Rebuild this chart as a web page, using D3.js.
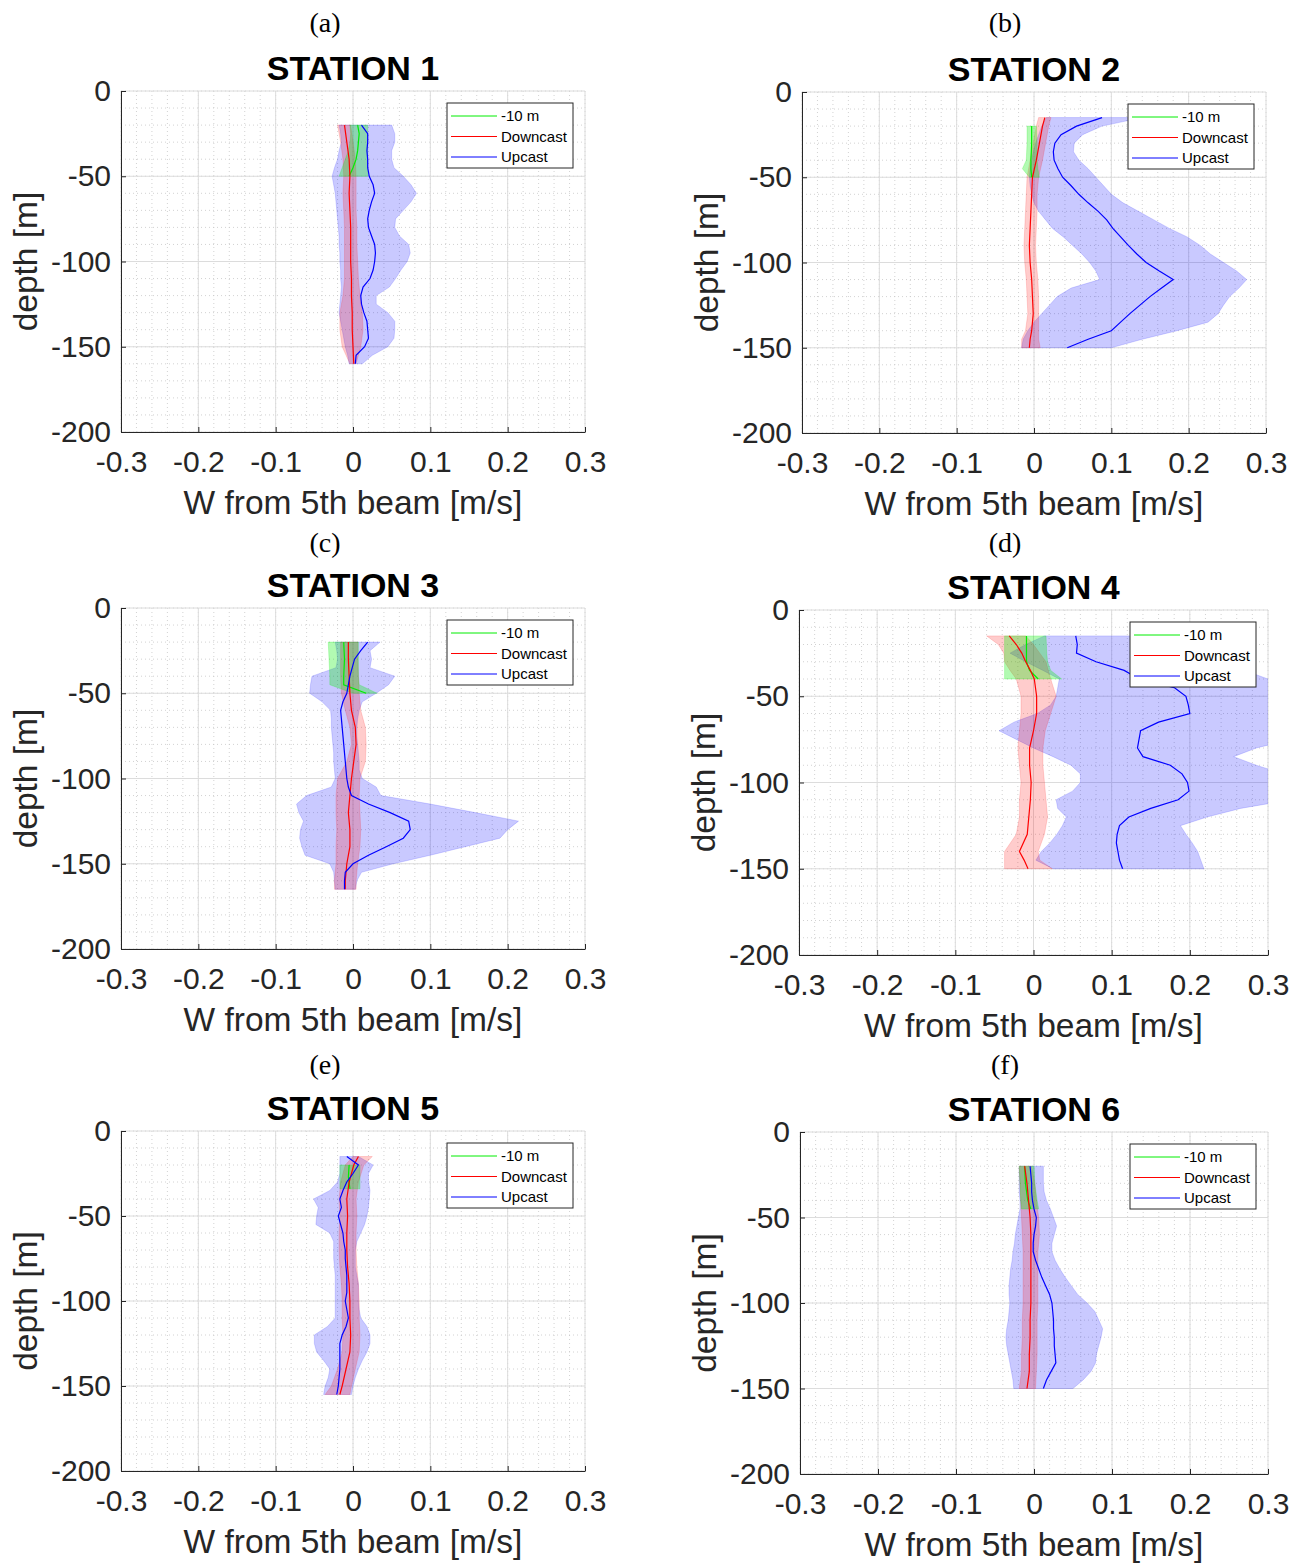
<!DOCTYPE html>
<html><head><meta charset="utf-8">
<script src="https://cdn.jsdelivr.net/npm/d3@7"></script>
<style>
body{margin:0;background:#fff;}
svg{display:block;}
</style></head>
<body>
<svg id="chart" width="1291" height="1566"></svg>
<script>
// ---------------- DATA ----------------
const xTicks = [-0.3, -0.2, -0.1, 0, 0.1, 0.2, 0.3];
const yTicks = [-200, -150, -100, -50, 0];
const legendLabels = ["-10 m", "Downcast", "Upcast"];
const panelLetters = ["(a)", "(b)", "(c)", "(d)", "(e)", "(f)"];
const stationTitles = ["STATION 1", "STATION 2", "STATION 3", "STATION 4", "STATION 5", "STATION 6"];
const xLabel = "W from 5th beam [m/s]";
const yLabel = "depth [m]";

// rows: [depth (m), mean W, lower bound, upper bound]
const st1Up = [[-20,0.011,-0.018,0.050],[-25,0.019,-0.016,0.054],[-30,0.019,-0.015,0.054],[-35,0.018,-0.018,0.050],[-40,0.019,-0.020,0.050],[-45,0.019,-0.024,0.053],[-50,0.021,-0.027,0.065],[-55,0.026,-0.025,0.075],[-60,0.028,-0.023,0.082],[-65,0.024,-0.022,0.075],[-70,0.021,-0.021,0.065],[-75,0.019,-0.020,0.055],[-80,0.020,-0.019,0.054],[-85,0.024,-0.018,0.060],[-90,0.028,-0.018,0.072],[-95,0.029,-0.017,0.074],[-100,0.028,-0.017,0.070],[-105,0.026,-0.016,0.062],[-110,0.022,-0.016,0.055],[-115,0.013,-0.015,0.047],[-120,0.010,-0.016,0.030],[-125,0.011,-0.017,0.030],[-130,0.014,-0.018,0.045],[-135,0.018,-0.016,0.054],[-140,0.019,-0.014,0.054],[-145,0.020,-0.012,0.053],[-150,0.015,-0.010,0.045],[-155,0.004,-0.007,0.025],[-160,0.003,-0.005,0.012]];
const st1Down = [[-20,-0.011,-0.020,-0.003],[-30,-0.008,-0.016,0.000],[-40,-0.005,-0.013,0.003],[-50,-0.004,-0.012,0.004],[-60,-0.005,-0.013,0.004],[-70,-0.004,-0.012,0.004],[-80,-0.003,-0.011,0.005],[-90,-0.003,-0.011,0.005],[-100,-0.003,-0.011,0.006],[-110,-0.002,-0.011,0.007],[-120,-0.002,-0.013,0.009],[-130,-0.001,-0.017,0.012],[-140,-0.001,-0.017,0.013],[-150,0.000,-0.014,0.010],[-160,0.001,-0.004,0.004]];
const st1Ten = [[-20,0.006,-0.004,0.019],[-25,0.008,-0.003,0.019],[-30,0.007,-0.004,0.019],[-35,0.006,-0.006,0.019],[-40,0.004,-0.010,0.019],[-45,0.000,-0.014,0.019],[-50,-0.005,-0.018,0.019]];

const st2Up = [[-15,0.088,0.016,0.140],[-20,0.055,0.010,0.088],[-25,0.035,0.006,0.063],[-30,0.027,0.002,0.052],[-35,0.025,-0.001,0.051],[-40,0.026,-0.003,0.058],[-45,0.031,-0.005,0.070],[-50,0.037,-0.006,0.080],[-55,0.048,-0.005,0.090],[-60,0.058,-0.003,0.100],[-65,0.070,0.000,0.115],[-70,0.083,0.006,0.135],[-75,0.094,0.015,0.155],[-80,0.102,0.024,0.175],[-85,0.112,0.038,0.198],[-90,0.122,0.050,0.215],[-95,0.133,0.062,0.228],[-100,0.145,0.072,0.245],[-105,0.162,0.080,0.262],[-110,0.180,0.085,0.275],[-115,0.165,0.048,0.265],[-120,0.150,0.030,0.253],[-125,0.137,0.020,0.245],[-130,0.124,0.010,0.238],[-135,0.112,0.000,0.225],[-140,0.100,-0.008,0.185],[-145,0.070,-0.014,0.140],[-150,0.043,-0.016,0.100]];
const st2Down = [[-15,0.014,0.006,0.022],[-20,0.011,0.003,0.019],[-30,0.007,-0.001,0.015],[-40,0.003,-0.005,0.011],[-50,-0.002,-0.009,0.006],[-60,-0.003,-0.010,0.004],[-70,-0.004,-0.011,0.004],[-80,-0.005,-0.012,0.003],[-90,-0.006,-0.013,0.002],[-100,-0.005,-0.012,0.003],[-110,-0.003,-0.010,0.005],[-120,-0.002,-0.009,0.006],[-130,-0.001,-0.008,0.006],[-140,-0.003,-0.011,0.006],[-145,-0.005,-0.016,0.006],[-150,-0.006,-0.016,0.008]];
const st2Ten = [[-20,-0.003,-0.009,0.003],[-30,-0.003,-0.009,0.004],[-40,-0.004,-0.010,0.004],[-45,-0.004,-0.015,0.005],[-50,-0.003,-0.006,0.007]];

const st3Up = [[-20,0.019,-0.023,0.035],[-25,0.010,-0.021,0.022],[-30,0.002,-0.020,0.024],[-35,-0.001,-0.022,0.022],[-40,-0.004,-0.053,0.054],[-45,-0.006,-0.055,0.046],[-50,-0.008,-0.056,0.030],[-55,-0.013,-0.040,0.012],[-60,-0.016,-0.029,0.008],[-65,-0.015,-0.028,0.006],[-70,-0.014,-0.028,0.005],[-75,-0.013,-0.027,0.005],[-80,-0.012,-0.026,0.006],[-85,-0.011,-0.025,0.007],[-90,-0.010,-0.025,0.008],[-95,-0.009,-0.024,0.008],[-100,-0.008,-0.023,0.012],[-105,-0.006,-0.028,0.030],[-110,-0.002,-0.060,0.036],[-115,0.020,-0.073,0.100],[-120,0.048,-0.070,0.158],[-125,0.072,-0.064,0.214],[-130,0.074,-0.068,0.200],[-135,0.065,-0.069,0.190],[-140,0.043,-0.066,0.145],[-145,0.020,-0.062,0.100],[-150,0.000,-0.030,0.052],[-155,-0.010,-0.025,0.011],[-160,-0.011,-0.024,0.005],[-165,-0.011,-0.023,0.003]];
const st3Down = [[-20,-0.006,-0.016,0.006],[-30,-0.006,-0.016,0.006],[-40,-0.005,-0.016,0.007],[-50,-0.004,-0.015,0.008],[-60,-0.002,-0.010,0.010],[-70,0.003,-0.004,0.016],[-80,0.004,-0.002,0.017],[-90,0.001,-0.008,0.016],[-100,-0.002,-0.020,0.009],[-110,-0.004,-0.022,0.008],[-120,-0.006,-0.022,0.009],[-130,-0.004,-0.021,0.010],[-140,-0.004,-0.022,0.009],[-150,-0.008,-0.022,0.006],[-160,-0.010,-0.024,0.004],[-165,-0.010,-0.024,0.004]];
const st3Ten = [[-20,-0.012,-0.032,0.007],[-30,-0.011,-0.031,0.007],[-40,-0.012,-0.030,0.007],[-45,-0.012,-0.030,0.008],[-50,0.017,0.000,0.031]];

const st4Up = [[-15,0.054,0.014,0.130],[-20,0.056,-0.010,0.160],[-25,0.055,-0.030,0.200],[-30,0.080,-0.010,0.240],[-35,0.116,0.012,0.270],[-40,0.135,0.033,0.300],[-45,0.180,0.031,0.320],[-50,0.195,0.029,0.330],[-55,0.198,0.022,0.340],[-60,0.200,0.005,0.340],[-65,0.160,-0.025,0.340],[-70,0.137,-0.044,0.340],[-75,0.135,-0.022,0.330],[-80,0.133,0.000,0.285],[-85,0.140,0.025,0.256],[-90,0.175,0.048,0.285],[-95,0.190,0.060,0.320],[-100,0.197,0.060,0.340],[-105,0.199,0.050,0.340],[-110,0.185,0.029,0.330],[-115,0.150,0.031,0.265],[-120,0.122,0.042,0.222],[-125,0.110,0.037,0.188],[-130,0.107,0.030,0.195],[-135,0.106,0.021,0.203],[-140,0.108,0.010,0.210],[-145,0.110,0.003,0.214],[-150,0.114,0.025,0.218]];
const st4Down = [[-15,-0.031,-0.060,-0.010],[-20,-0.022,-0.045,0.000],[-25,-0.015,-0.038,0.008],[-30,-0.010,-0.037,0.016],[-35,-0.004,-0.030,0.019],[-40,0.001,-0.022,0.022],[-50,0.004,-0.016,0.029],[-60,0.004,-0.016,0.022],[-70,0.000,-0.018,0.015],[-80,-0.005,-0.020,0.012],[-90,-0.005,-0.018,0.012],[-100,-0.003,-0.016,0.014],[-110,-0.004,-0.018,0.016],[-120,-0.006,-0.018,0.018],[-130,-0.008,-0.022,0.014],[-140,-0.018,-0.037,0.006],[-145,-0.012,-0.037,0.008],[-150,-0.007,-0.037,0.024]];
const st4Ten = [[-15,-0.009,-0.037,0.016],[-25,-0.009,-0.037,0.017],[-30,-0.009,-0.037,0.018],[-35,-0.005,-0.037,0.022],[-40,0.006,-0.037,0.036]];

const st5Up = [[-15,-0.008,-0.017,0.007],[-20,0.007,-0.017,0.026],[-25,0.000,-0.017,0.020],[-30,-0.008,-0.020,0.020],[-35,-0.013,-0.030,0.022],[-40,-0.017,-0.051,0.021],[-45,-0.015,-0.045,0.020],[-50,-0.019,-0.047,0.018],[-55,-0.016,-0.048,0.015],[-60,-0.013,-0.030,0.010],[-65,-0.012,-0.025,0.005],[-70,-0.010,-0.025,0.003],[-75,-0.010,-0.025,0.003],[-80,-0.009,-0.024,0.003],[-85,-0.008,-0.023,0.005],[-90,-0.008,-0.023,0.007],[-95,-0.008,-0.023,0.007],[-100,-0.010,-0.023,0.007],[-105,-0.008,-0.023,0.008],[-110,-0.006,-0.023,0.010],[-115,-0.009,-0.033,0.018],[-120,-0.014,-0.050,0.022],[-125,-0.017,-0.050,0.022],[-130,-0.017,-0.047,0.018],[-135,-0.017,-0.038,0.012],[-140,-0.017,-0.030,0.007],[-145,-0.018,-0.032,0.003],[-150,-0.019,-0.036,0.000],[-155,-0.021,-0.038,-0.002]];
const st5Down = [[-15,0.007,0.000,0.025],[-20,0.001,-0.010,0.014],[-30,-0.005,-0.016,0.007],[-40,-0.008,-0.018,0.004],[-50,-0.007,-0.017,0.005],[-60,-0.008,-0.018,0.004],[-70,-0.008,-0.018,0.004],[-80,-0.007,-0.017,0.005],[-90,-0.005,-0.015,0.007],[-100,-0.004,-0.014,0.008],[-110,-0.004,-0.014,0.008],[-120,-0.003,-0.013,0.009],[-130,-0.004,-0.014,0.008],[-140,-0.009,-0.020,0.003],[-150,-0.014,-0.028,-0.002],[-155,-0.017,-0.036,-0.004]];
const st5Ten = [[-20,-0.005,-0.017,0.009],[-27,-0.006,-0.017,0.009],[-34,-0.004,-0.017,0.009]];

const st6Up = [[-20,-0.005,-0.019,0.012],[-25,-0.004,-0.019,0.012],[-30,-0.003,-0.019,0.012],[-35,-0.003,-0.019,0.013],[-40,-0.002,-0.018,0.016],[-45,0.000,-0.018,0.021],[-50,0.003,-0.020,0.025],[-55,0.002,-0.022,0.029],[-60,0.000,-0.024,0.026],[-65,-0.001,-0.025,0.023],[-70,-0.001,-0.027,0.023],[-75,0.002,-0.028,0.027],[-80,0.006,-0.030,0.033],[-85,0.010,-0.031,0.040],[-90,0.015,-0.032,0.048],[-95,0.020,-0.032,0.056],[-100,0.023,-0.031,0.068],[-105,0.024,-0.032,0.078],[-110,0.025,-0.033,0.083],[-115,0.025,-0.035,0.088],[-120,0.026,-0.036,0.086],[-125,0.026,-0.035,0.083],[-130,0.027,-0.033,0.080],[-135,0.028,-0.031,0.079],[-140,0.022,-0.029,0.073],[-145,0.016,-0.027,0.063],[-150,0.012,-0.026,0.050]];
const st6Down = [[-20,-0.012,-0.019,-0.003],[-30,-0.009,-0.018,0.001],[-40,-0.007,-0.017,0.003],[-50,-0.005,-0.016,0.006],[-60,-0.004,-0.015,0.007],[-70,-0.004,-0.014,0.005],[-80,-0.004,-0.014,0.005],[-90,-0.004,-0.014,0.005],[-100,-0.004,-0.014,0.005],[-110,-0.005,-0.015,0.004],[-120,-0.005,-0.015,0.004],[-130,-0.006,-0.016,0.004],[-140,-0.006,-0.016,0.003],[-150,-0.009,-0.019,0.002]];
const st6Ten = [[-20,-0.012,-0.019,0.000],[-30,-0.011,-0.018,0.001],[-40,-0.008,-0.017,0.004],[-45,-0.004,-0.016,0.006]];

const upData = [st1Up, st2Up, st3Up, st4Up, st5Up, st6Up];
const downData = [st1Down, st2Down, st3Down, st4Down, st5Down, st6Down];
const tenData = [st1Ten, st2Ten, st3Ten, st4Ten, st5Ten, st6Ten];

// ---------------- LAYOUT ----------------
const layout = [
  {x0:121, x1:585, y0:91,   y1:432,  lx:325,  ly:32},
  {x0:802, x1:1266, y0:92,  y1:433,  lx:1005, ly:32},
  {x0:121, x1:585, y0:608,  y1:949,  lx:325,  ly:552},
  {x0:799, x1:1268, y0:610, y1:955,  lx:1005, ly:552},
  {x0:121, x1:585, y0:1131, y1:1471, lx:325,  ly:1074},
  {x0:800, x1:1268, y0:1132, y1:1474, lx:1005, ly:1074}
];
const colGreen = "#00ee00", colRed = "#ff0000", colBlue = "#0000ff";
const seriesColors = [colGreen, colRed, colBlue];
const FONT = "'Liberation Sans', Arial, sans-serif";

const svg = d3.select("#chart");
const defs = svg.append("defs");

layout.forEach((L, i) => {
  const x = d3.scaleLinear().domain([-0.3, 0.3]).range([L.x0, L.x1]);
  const y = d3.scaleLinear().domain([-200, 0]).range([L.y1, L.y0]);
  const g = svg.append("g");

  svg.append("text").attr("x", L.lx).attr("y", L.ly).attr("text-anchor", "middle")
    .style("font-family", "'Liberation Serif', 'Times New Roman', serif").style("font-size", "28px")
    .text(panelLetters[i]);
  g.append("text").attr("x", (L.x0 + L.x1) / 2).attr("y", L.y0 - 11).attr("text-anchor", "middle")
    .style("font-family", FONT).style("font-size", "34px").style("font-weight", "bold")
    .text(stationTitles[i]);

  const grid = g.append("g");
  x.ticks(30).forEach(v => {
    grid.append("line").attr("x1", x(v)).attr("x2", x(v)).attr("y1", L.y0).attr("y2", L.y1)
      .attr("stroke", "#c6c6c6").attr("stroke-width", 0.8).attr("stroke-dasharray", "1,3");
  });
  y.ticks(20).forEach(v => {
    grid.append("line").attr("y1", y(v)).attr("y2", y(v)).attr("x1", L.x0).attr("x2", L.x1)
      .attr("stroke", "#c6c6c6").attr("stroke-width", 0.8).attr("stroke-dasharray", "1,3");
  });
  xTicks.forEach(v => {
    grid.append("line").attr("x1", x(v)).attr("x2", x(v)).attr("y1", L.y0).attr("y2", L.y1)
      .attr("stroke", "#dcdcdc").attr("stroke-width", 1);
  });
  yTicks.forEach(v => {
    grid.append("line").attr("y1", y(v)).attr("y2", y(v)).attr("x1", L.x0).attr("x2", L.x1)
      .attr("stroke", "#dcdcdc").attr("stroke-width", 1);
  });

  const cid = "clip" + i;
  defs.append("clipPath").attr("id", cid).append("rect")
    .attr("x", L.x0).attr("y", L.y0).attr("width", L.x1 - L.x0).attr("height", L.y1 - L.y0);
  const plot = g.append("g").attr("clip-path", `url(#${cid})`);

  const area = d3.area().y(d => y(d[0])).x0(d => x(d[2])).x1(d => x(d[3]));
  const line = d3.line().y(d => y(d[0])).x(d => x(d[1]));

  plot.append("path").datum(upData[i]).attr("d", area)
    .attr("fill", colBlue).attr("fill-opacity", 0.21).attr("stroke", colBlue).attr("stroke-opacity", 0.15);
  plot.append("path").datum(downData[i]).attr("d", area)
    .attr("fill", colRed).attr("fill-opacity", 0.2).attr("stroke", colRed).attr("stroke-opacity", 0.15);
  plot.append("path").datum(tenData[i]).attr("d", area)
    .attr("fill", colGreen).attr("fill-opacity", 0.3).attr("stroke", colGreen).attr("stroke-opacity", 0.2);

  plot.append("path").datum(tenData[i]).attr("d", line).attr("fill", "none").attr("stroke", colGreen).attr("stroke-width", 1.2);
  plot.append("path").datum(downData[i]).attr("d", line).attr("fill", "none").attr("stroke", colRed).attr("stroke-width", 1.2);
  plot.append("path").datum(upData[i]).attr("d", line).attr("fill", "none").attr("stroke", colBlue).attr("stroke-width", 1.2);

  const xAxis = g.append("g").attr("transform", `translate(0,${L.y1})`)
    .call(d3.axisBottom(x).tickValues(xTicks).tickSize(-5).tickSizeOuter(0).tickPadding(19).tickFormat(d => String(d)));
  const yAxis = g.append("g").attr("transform", `translate(${L.x0},0)`)
    .call(d3.axisLeft(y).tickValues(yTicks).tickSize(-5).tickSizeOuter(0).tickPadding(10).tickFormat(d => String(d)));
  [xAxis, yAxis].forEach(ax => {
    ax.select(".domain").attr("stroke", "#262626");
    ax.selectAll(".tick line").attr("stroke", "#262626");
    ax.selectAll("text").style("font-family", FONT).style("font-size", "30px").attr("fill", "#262626");
  });

  g.append("text").attr("x", (L.x0 + L.x1) / 2).attr("y", L.y1 + 82).attr("text-anchor", "middle")
    .style("font-family", FONT).style("font-size", "33.5px").attr("fill", "#262626").text(xLabel);
  g.append("text").attr("transform", `translate(${L.x0 - 84},${(L.y0 + L.y1) / 2}) rotate(-90)`)
    .attr("text-anchor", "middle")
    .style("font-family", FONT).style("font-size", "33.5px").attr("fill", "#262626").text(yLabel);

  const lw = 126, lh = 65;
  const lgx = L.x1 - 12 - lw, lgy = L.y0 + 12;
  const lg = g.append("g").attr("transform", `translate(${lgx},${lgy})`);
  lg.append("rect").attr("width", lw).attr("height", lh).attr("fill", "#fff").attr("stroke", "#262626").attr("stroke-width", 1);
  legendLabels.forEach((lab, k) => {
    const yy = 13 + k * 20.5;
    lg.append("line").attr("x1", 4).attr("x2", 50).attr("y1", yy).attr("y2", yy)
      .attr("stroke", seriesColors[k]).attr("stroke-width", 1);
    lg.append("text").attr("x", 54).attr("y", yy).attr("dy", "0.35em")
      .style("font-family", FONT).style("font-size", "15px").attr("fill", "#000").text(lab);
  });
});
</script>
</body></html>
